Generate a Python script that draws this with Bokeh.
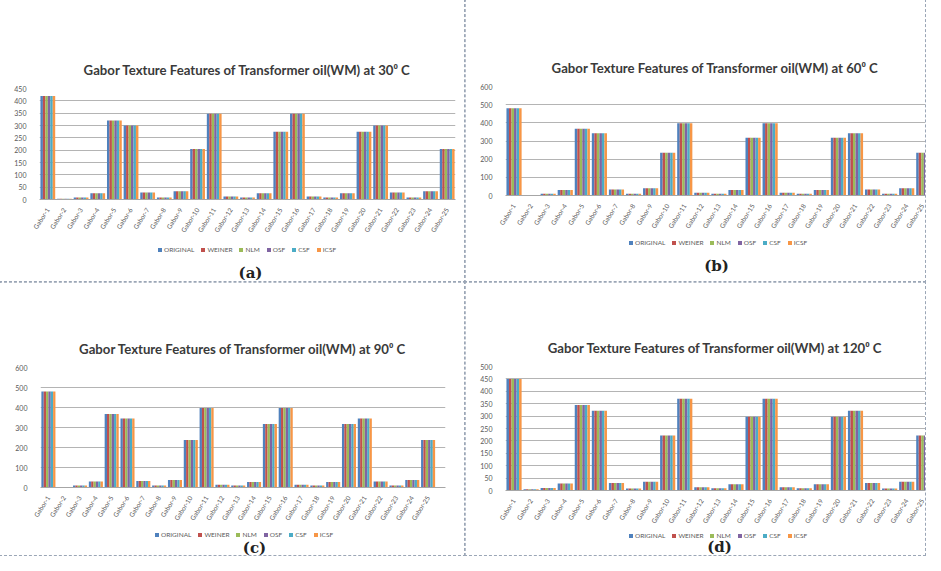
import math
from bokeh.plotting import figure
from bokeh.models import (ColumnDataSource, Range1d, FixedTicker, Legend, LegendItem, Label)
from bokeh.transform import dodge
from bokeh.layouts import column, row
from bokeh.embed import file_html
from bokeh.resources import INLINE

categories = ["Gabor-1", "Gabor-2", "Gabor-3", "Gabor-4", "Gabor-5", "Gabor-6", "Gabor-7",
              "Gabor-8", "Gabor-9", "Gabor-10", "Gabor-11", "Gabor-12", "Gabor-13", "Gabor-14",
              "Gabor-15", "Gabor-16", "Gabor-17", "Gabor-18", "Gabor-19", "Gabor-20", "Gabor-21",
              "Gabor-22", "Gabor-23", "Gabor-24", "Gabor-25"]
series_names = ["ORIGINAL", "WEINER", "NLM", "OSF", "CSF", "ICSF"]
series_colors = ["#4F81BD", "#C0504D", "#9BBB59", "#8064A2", "#4BACC6", "#F79646"]

# 30 deg C
original_30 = [420, 3, 8, 25, 320, 300, 28, 8, 33, 205, 348, 12, 8, 25, 275, 348, 12, 8, 25, 275, 300, 28, 8, 33, 205]
weiner_30   = [420, 3, 8, 25, 320, 300, 28, 8, 33, 205, 348, 12, 8, 25, 275, 348, 12, 8, 25, 275, 300, 28, 8, 33, 205]
nlm_30      = [420, 3, 8, 25, 320, 300, 28, 8, 33, 205, 348, 12, 8, 25, 275, 348, 12, 8, 25, 275, 300, 28, 8, 33, 205]
osf_30      = [420, 3, 8, 25, 320, 300, 28, 8, 33, 205, 348, 12, 8, 25, 275, 348, 12, 8, 25, 275, 300, 28, 8, 33, 205]
csf_30      = [420, 3, 8, 25, 320, 300, 28, 8, 33, 205, 348, 12, 8, 25, 275, 348, 12, 8, 25, 275, 300, 28, 8, 33, 205]
icsf_30     = [420, 3, 8, 25, 320, 300, 28, 8, 33, 205, 348, 12, 8, 25, 275, 348, 12, 8, 25, 275, 300, 28, 8, 33, 205]

# 60 deg C
original_60 = [480, 3, 10, 30, 368, 343, 33, 10, 40, 235, 398, 15, 10, 30, 318, 398, 15, 10, 30, 318, 343, 33, 10, 40, 235]
weiner_60   = [480, 3, 10, 30, 368, 343, 33, 10, 40, 235, 398, 15, 10, 30, 318, 398, 15, 10, 30, 318, 343, 33, 10, 40, 235]
nlm_60      = [480, 3, 10, 30, 368, 343, 33, 10, 40, 235, 398, 15, 10, 30, 318, 398, 15, 10, 30, 318, 343, 33, 10, 40, 235]
osf_60      = [480, 3, 10, 30, 368, 343, 33, 10, 40, 235, 398, 15, 10, 30, 318, 398, 15, 10, 30, 318, 343, 33, 10, 40, 235]
csf_60      = [480, 3, 10, 30, 368, 343, 33, 10, 40, 235, 398, 15, 10, 30, 318, 398, 15, 10, 30, 318, 343, 33, 10, 40, 235]
icsf_60     = [480, 3, 10, 30, 368, 343, 33, 10, 40, 235, 398, 15, 10, 30, 318, 398, 15, 10, 30, 318, 343, 33, 10, 40, 235]

# 90 deg C
original_90 = [480, 3, 10, 30, 368, 345, 33, 10, 38, 237, 398, 14, 10, 28, 318, 398, 14, 10, 28, 318, 345, 30, 10, 38, 237]
weiner_90   = [480, 3, 10, 30, 368, 345, 33, 10, 38, 237, 398, 14, 10, 28, 318, 398, 14, 10, 28, 318, 345, 30, 10, 38, 237]
nlm_90      = [480, 3, 10, 30, 368, 345, 33, 10, 38, 237, 398, 14, 10, 28, 318, 398, 14, 10, 28, 318, 345, 30, 10, 38, 237]
osf_90      = [480, 3, 10, 30, 368, 345, 33, 10, 38, 237, 398, 14, 10, 28, 318, 398, 14, 10, 28, 318, 345, 30, 10, 38, 237]
csf_90      = [480, 3, 10, 30, 368, 345, 33, 10, 38, 237, 398, 14, 10, 28, 318, 398, 14, 10, 28, 318, 345, 30, 10, 38, 237]
icsf_90     = [480, 3, 10, 30, 368, 345, 33, 10, 38, 237, 398, 14, 10, 28, 318, 398, 14, 10, 28, 318, 345, 30, 10, 38, 237]

# 120 deg C
original_120 = [450, 5, 10, 28, 345, 322, 30, 8, 35, 222, 370, 13, 9, 25, 297, 370, 13, 9, 25, 297, 322, 30, 8, 35, 222]
weiner_120   = [450, 5, 10, 28, 345, 322, 30, 8, 35, 222, 370, 13, 9, 25, 297, 370, 13, 9, 25, 297, 322, 30, 8, 35, 222]
nlm_120      = [450, 5, 10, 28, 345, 322, 30, 8, 35, 222, 370, 13, 9, 25, 297, 370, 13, 9, 25, 297, 322, 30, 8, 35, 222]
osf_120      = [450, 5, 10, 28, 345, 322, 30, 8, 35, 222, 370, 13, 9, 25, 297, 370, 13, 9, 25, 297, 322, 30, 8, 35, 222]
csf_120      = [450, 5, 10, 28, 345, 322, 30, 8, 35, 222, 370, 13, 9, 25, 297, 370, 13, 9, 25, 297, 322, 30, 8, 35, 222]
icsf_120     = [450, 5, 10, 28, 345, 322, 30, 8, 35, 222, 370, 13, 9, 25, 297, 370, 13, 9, 25, 297, 322, 30, 8, 35, 222]

titles = ["Gabor Texture Features of Transformer oil(WM) at 30\u2070 C",
          "Gabor Texture Features of Transformer oil(WM) at 60\u2070 C",
          "Gabor Texture Features of Transformer oil(WM) at 90\u2070 C",
          "Gabor Texture Features of Transformer oil(WM) at 120\u2070 C"]
captions = ["(a)", "(b)", "(c)", "(d)"]
y_ticks_a = [0, 50, 100, 150, 200, 250, 300, 350, 400, 450]
y_ticks_b = [0, 100, 200, 300, 400, 500, 600]
y_ticks_c = [0, 100, 200, 300, 400, 500, 600]
y_ticks_d = [0, 50, 100, 150, 200, 250, 300, 350, 400, 450, 500]

BORDER = "1px dashed #9ba6b6"
TXT = "#595959"
xs = list(range(1, len(categories) + 1))


def make_chart(title, series, y_ticks, width, height, x_end, b_left, b_right, b_top):
    p = figure(width=width, height=height, output_backend="svg", toolbar_location=None,
               x_range=Range1d(0.5, x_end), y_range=Range1d(0, y_ticks[-1]),
               min_border_left=b_left, min_border_right=b_right,
               min_border_top=b_top, min_border_bottom=10)
    p.outline_line_color = None
    p.title.text = title
    p.title.align = "center"
    p.title.text_font = "Lato"
    p.title.text_font_style = "bold"
    p.title.text_font_size = "13.2px"
    p.title.text_color = "#3a3a3a"
    p.title.standoff = 21

    bw = 0.148
    for k, (vals, col) in enumerate(zip(series, series_colors)):
        src = ColumnDataSource(dict(x=xs, top=vals))
        p.vbar(x=dodge("x", (k - 2.5) * bw, range=p.x_range), top="top", width=bw,
               source=src, fill_color=col, line_color=None)

    p.xaxis.ticker = FixedTicker(ticks=xs)
    p.xaxis.major_label_overrides = {i + 1: c for i, c in enumerate(categories)}
    p.xaxis.major_label_orientation = 1.0
    p.xaxis.major_label_text_font = "Lato"
    p.xaxis.major_label_text_font_size = "6.5px"
    p.xaxis.major_label_text_color = TXT
    p.xaxis.axis_line_color = "#a6a6a6"
    p.xaxis.major_tick_line_color = None
    p.xaxis.minor_tick_line_color = None
    p.xaxis.major_label_standoff = 3

    p.yaxis.ticker = FixedTicker(ticks=y_ticks)
    p.yaxis.major_label_text_font = "Lato"
    p.yaxis.major_label_text_font_size = "7px"
    p.yaxis.major_label_text_color = TXT
    p.yaxis.axis_line_color = None
    p.yaxis.major_tick_line_color = None
    p.yaxis.minor_tick_line_color = None
    p.yaxis.major_label_standoff = 7

    p.xgrid.grid_line_color = None
    p.ygrid.grid_line_color = "#b4b4b4"
    return p


def make_footer(caption, series, width, height, legend_left, legend_mid, caption_x, caption_mid):
    f = figure(width=width, height=height, output_backend="svg", toolbar_location=None,
               x_range=Range1d(0, width), y_range=Range1d(0, height),
               x_axis_location=None, y_axis_location=None,
               min_border=0, min_border_left=0, min_border_right=0,
               min_border_top=0, min_border_bottom=0)
    f.grid.grid_line_color = None
    f.outline_line_color = None
    items = []
    for name, vals, col in zip(series_names, series, series_colors):
        # hidden proxy of each series, only used to draw its legend swatch
        r = f.vbar(x=xs, top=vals, width=0.8, fill_color=col, line_color=None, visible=False)
        items.append(LegendItem(label=name, renderers=[r]))
    legend = Legend(items=items, orientation="horizontal",
                    location=(legend_left, height - legend_mid - 4),
                    label_text_font="Lato", label_text_font_size="6.5px", label_text_color=TXT,
                    glyph_width=5, glyph_height=5, label_standoff=2, spacing=6,
                    label_width=0, label_height=8,
                    padding=0, margin=0, border_line_color=None,
                    background_fill_alpha=0, inactive_fill_alpha=0)
    f.add_layout(legend)
    f.add_layout(Label(x=caption_x, y=height - caption_mid, x_units="screen", y_units="screen",
                       text=caption, text_align="center", text_baseline="middle",
                       text_font="DejaVu Serif", text_font_style="bold",
                       text_font_size="15px", text_color="#222222"))
    return f


s30 = [original_30, weiner_30, nlm_30, osf_30, csf_30, icsf_30]
s60 = [original_60, weiner_60, nlm_60, osf_60, csf_60, icsf_60]
s90 = [original_90, weiner_90, nlm_90, osf_90, csf_90, icsf_90]
s120 = [original_120, weiner_120, nlm_120, osf_120, csf_120, icsf_120]

pa = make_chart(titles[0], s30, y_ticks_a, 465, 238, 25.5, 39, 10, 88)
fa = make_footer(captions[0], s30, 465, 44, 118, 11, 211, 34)

pb = make_chart(titles[1], s60, y_ticks_b, 460, 234, 25.1, 40, 0, 86)
fb = make_footer(captions[1], s60, 460, 48, 123, 8, 211, 31)

pc = make_chart(titles[2], s90, y_ticks_c, 465, 244, 26.1, 40, 20, 85)
fc = make_footer(captions[2], s90, 465, 29, 114, 8, 214, 21)

pd_ = make_chart(titles[3], s120, y_ticks_d, 460, 247, 25.1, 40, 0, 84)
fd = make_footer(captions[3], s120, 460, 26, 123, 6, 214, 17)

ca = column(pa, fa, spacing=0, styles={"outline": BORDER})
cb = column(pb, fb, spacing=0, styles={"outline": BORDER})
cc = column(pc, fc, spacing=0, styles={"outline": BORDER})
cd = column(pd_, fd, spacing=0, styles={"outline": BORDER})

layout = column(row(ca, cb, spacing=0), row(cc, cd, spacing=0), spacing=0)

open("out.html", "w").write(file_html(layout, INLINE))
